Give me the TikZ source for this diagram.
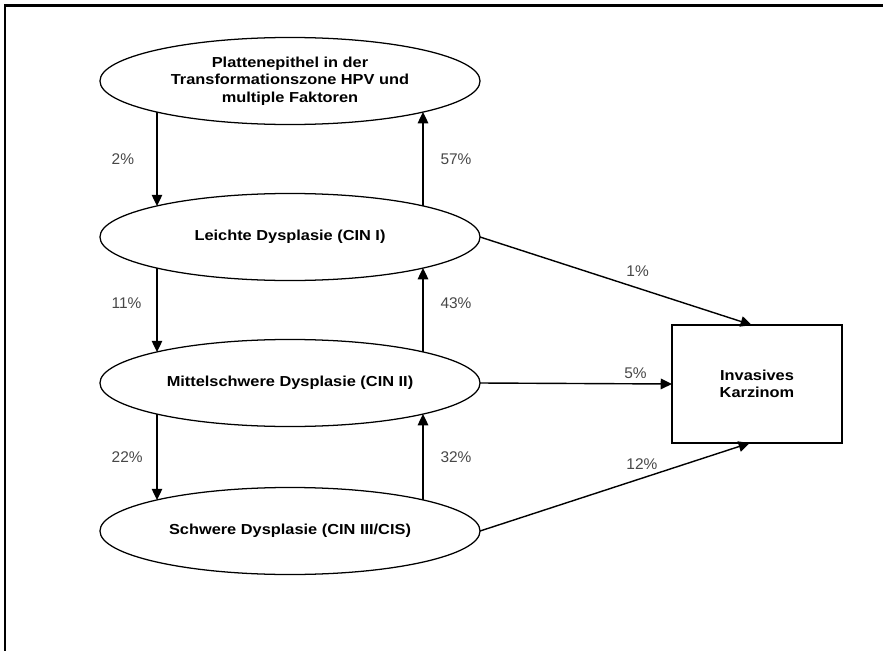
\documentclass[tikz,border=0pt]{standalone}
\usepackage{fontspec}
\setmainfont{Liberation Sans}
\newfontfamily\stagefont{Liberation Sans}[FakeStretch=1.13]
\usetikzlibrary{arrows.meta,shapes.geometric}

\begin{document}
\begin{tikzpicture}[>={Triangle[length=8pt,width=7.5pt]}, x=0.025cm, y=-0.025cm,   % one unit = one pixel
    stage/.style={draw, ellipse, line width=0.9pt, minimum width=9.5cm, minimum height=2.175cm,
        inner sep=0pt, outer sep=0pt, align=center, font=\stagefont\bfseries\fontsize{10.3}{12.4}\selectfont},
    endbox/.style={draw, rectangle, line width=1.3pt, minimum width=4.25cm, minimum height=2.95cm,
        inner sep=0pt, outer sep=0pt, align=center, font=\stagefont\bfseries\fontsize{10.3}{12.4}\selectfont},
    pct/.style={text=black!72, inner sep=0pt, font=\fontsize{11}{13}\selectfont},
    flow/.style={->, line width=1pt},
    dl/.style={shift={(-133,31)}}, ul/.style={shift={(-133,-31)}},   % lower / upper left rim
    dr/.style={shift={(133,31)}},  ur/.style={shift={(133,-31)}}]    % lower / upper right rim
    \useasboundingbox (0,0) rectangle (883,651);
    \draw[line width=1.6pt] (5,651) -- (5,5.5) -- (883,5.5);

    % the stages
    \node[stage] (pl) at (290,81)  {Plattenepithel in der\\Transformationszone HPV und\\multiple Faktoren};
    \node[stage] (ld) at (290,237) {Leichte Dysplasie (CIN I)};
    \node[stage] (md) at (290,383) {Mittelschwere Dysplasie (CIN II)};
    \node[stage] (sd) at (290,531) {Schwere Dysplasie (CIN III/CIS)};
    \node[endbox] (kz) at (757,384) {Invasives\\Karzinom};

    % progression (left) and regression (right)
    \draw[flow] ([dl]pl.center) -- node[pct, anchor=west, xshift=-1.15cm] {2\%} ([ul]ld.center);
    \draw[flow] ([dl]ld.center) -- node[pct, anchor=west, xshift=-1.15cm, pos=0.42] {11\%} ([ul]md.center);
    \draw[flow] ([dl]md.center) -- node[pct, anchor=west, xshift=-1.15cm] {22\%} ([ul]sd.center);
    \draw[flow] ([ur]ld.center) -- node[pct, anchor=west, xshift=0.42cm] {57\%} ([dr]pl.center);
    \draw[flow] ([ur]md.center) -- node[pct, anchor=west, xshift=0.42cm, pos=0.58] {43\%} ([dr]ld.center);
    \draw[flow] ([ur]sd.center) -- node[pct, anchor=west, xshift=0.42cm] {32\%} ([dr]md.center);

    % to the carcinoma
    \draw[flow] (ld.east) -- node[pct, pos=0.58, above=0.27cm] {1\%} ([xshift=-1.3mm]kz.north);
    \draw[flow] (md.east) -- node[pct, pos=0.81, above=0.12cm] {5\%} (kz.west);
    \draw[flow] (sd.east) -- node[pct, pos=0.6, above=0.19cm] {12\%} ([xshift=-1.8mm]kz.south);
\end{tikzpicture}
\end{document}
